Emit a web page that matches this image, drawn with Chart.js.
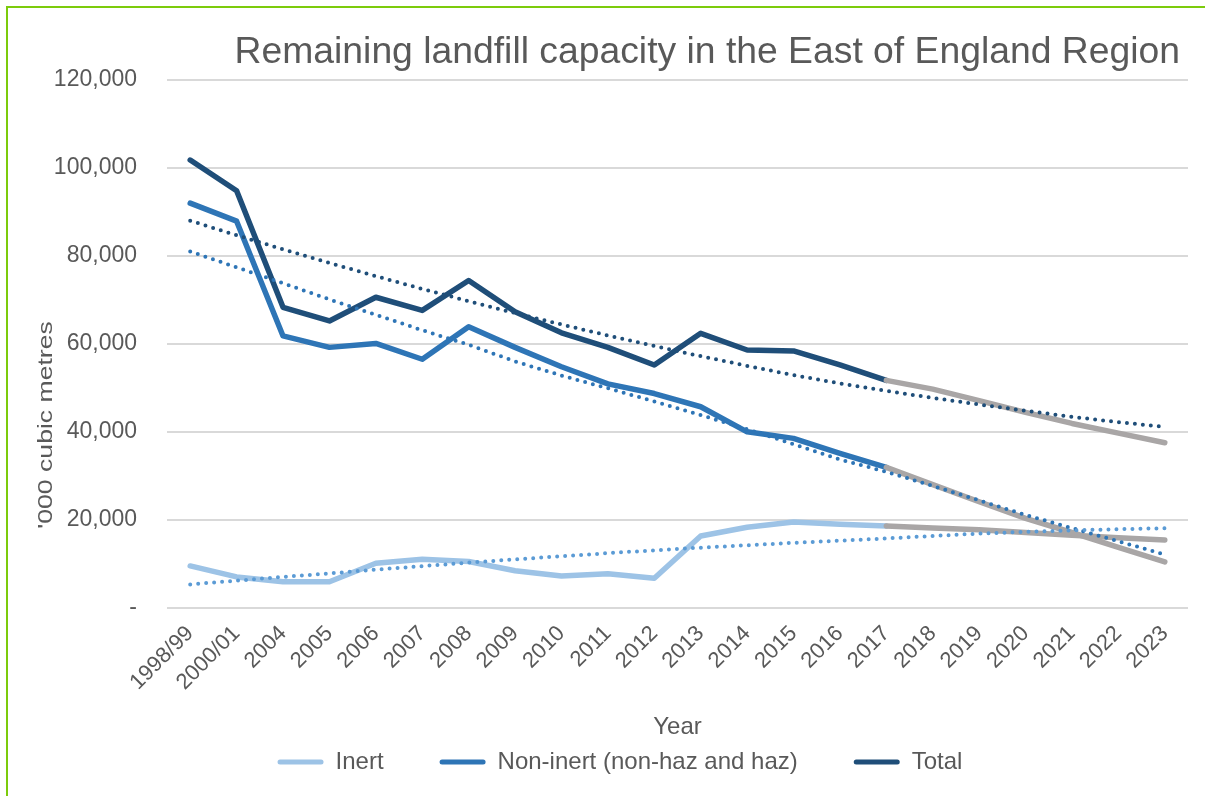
<!DOCTYPE html>
<html>
<head>
<meta charset="utf-8">
<title>Remaining landfill capacity</title>
<script src="https://cdn.jsdelivr.net/npm/chart.js@4/dist/chart.umd.min.js"></script>
<style>
  html, body { margin: 0; padding: 0; background: #ffffff; }
  #wrap { position: relative; width: 1205px; height: 796px; overflow: hidden; }
  #wrap canvas { position: absolute; left: 0; top: 0; }
  #frame {
    position: absolute; left: 6px; top: 6px; right: -10px; bottom: -10px;
    border-left: 2px solid #7CCB0C; border-top: 2px solid #7CCB0C;
    pointer-events: none;
  }
</style>
</head>
<body>
<div id="wrap">
  <canvas id="chart" width="1205" height="796"></canvas>
  <div id="frame"></div>
</div>
<script>
// Survey years
const years = ['1998/99', '2000/01', '2004', '2005', '2006', '2007', '2008', '2009', '2010', '2011',
  '2012', '2013', '2014', '2015', '2016', '2017', '2018', '2019', '2020', '2021', '2022', '2023'];

// Remaining capacity ('000 cubic metres); values from 2017 onward are projections
const inert = [9500, 7000, 5900, 5900, 10100, 11000, 10500, 8400, 7200, 7700,
  6700, 16300, 18300, 19500, 19000, 18600, 18150, 17700, 17100, 16500, 15900, 15400];
const nonInert = [92000, 87900, 61800, 59200, 60100, 56500, 63900, 59200, 54800, 50900,
  48700, 45700, 40000, 38500, 35100, 31900, 28000, 24100, 20300, 17100, 13700, 10400];
const total = [101800, 94800, 68300, 65200, 70600, 67600, 74400, 67300, 62500, 59200,
  55200, 62400, 58600, 58400, 55200, 51700, 49700, 47100, 44400, 41900, 39700, 37500];

// Trend lines
const inertTrend = [5300, 6150, 7000, 7800, 8650, 9450, 10250, 11000, 11700, 12400,
  13050, 13650, 14200, 14750, 15250, 15750, 16300, 16850, 17250, 17600, 17850, 18080];
const nonInertTrend = [81000, 77400, 73800, 70100, 66600, 63100, 59800, 56000, 52800, 49900,
  46900, 43800, 40600, 37200, 33700, 30900, 27700, 24400, 21100, 18100, 15100, 12100];
const totalTrend = [88000, 84700, 81500, 78400, 75400, 72500, 69700, 67000, 64400, 61900,
  59500, 57200, 55000, 52900, 51000, 49300, 47700, 46200, 44800, 43400, 42200, 41100];

const projectionFrom = '2017';
const yTickLabels = ['-', '20,000', '40,000', '60,000', '80,000', '100,000', '120,000'];

const chartTitle = 'Remaining landfill capacity in the East of England Region';
const yAxisTitle = "'000 cubic metres";
const xAxisTitle = 'Year';

const FONT = "'Liberation Sans', Arial, Helvetica, sans-serif";
const TEXT = '#595959';
const GREY = '#A9A6A6';
const projIdx = years.indexOf(projectionFrom);

function seriesLine(label, data, color, order) {
  return {
    label, data, order,
    borderColor: color, backgroundColor: color,
    borderWidth: 5.5, borderCapStyle: 'round', borderJoinStyle: 'round',
    pointRadius: 0, pointHoverRadius: 0, tension: 0, fill: false,
    segment: { borderColor: c => (c.p0DataIndex >= projIdx ? GREY : undefined) }
  };
}

function trendLine(label, data, color) {
  return {
    label, data, isTrend: true, order: 0,
    borderColor: color, backgroundColor: color,
    borderWidth: 4, borderDash: [0, 8], borderCapStyle: 'round',
    pointRadius: 0, pointHoverRadius: 0, tension: 0, fill: false
  };
}

// Chart heading and the vertical axis caption
const captions = {
  id: 'captions',
  afterDraw(chart) {
    const { ctx, chartArea } = chart;
    ctx.save();
    ctx.fillStyle = TEXT;
    ctx.font = `37.3px ${FONT}`;
    ctx.textAlign = 'right';
    ctx.textBaseline = 'alphabetic';
    ctx.fillText(chartTitle, chartArea.right - 8, 63);

    ctx.translate(46.5, 425);
    ctx.rotate(-Math.PI / 2);
    ctx.scale(1.33, 1);
    ctx.font = `20px ${FONT}`;
    ctx.textAlign = 'center';
    ctx.textBaseline = 'middle';
    ctx.fillText(yAxisTitle, 0, 0);
    ctx.restore();
  }
};

new Chart(document.getElementById('chart'), {
  type: 'line',
  data: {
    labels: years,
    datasets: [
      seriesLine('Inert', inert, '#9DC3E6', 3),
      seriesLine('Non-inert (non-haz and haz)', nonInert, '#2E75B6', 2),
      seriesLine('Total', total, '#1F4E79', 1),
      trendLine('Inert trend', inertTrend, '#5B9BD5'),
      trendLine('Non-inert trend', nonInertTrend, '#2E75B6'),
      trendLine('Total trend', totalTrend, '#1F4E79')
    ]
  },
  options: {
    responsive: false,
    animation: false,
    devicePixelRatio: 1,
    layout: { padding: { left: 52, right: 17, top: 80, bottom: 12 } },
    plugins: {
      title: { display: false },
      tooltip: { enabled: false },
      legend: {
        position: 'bottom',
        labels: {
          color: TEXT,
          font: { family: FONT, size: 24 },
          boxWidth: 46,
          boxHeight: 5,
          padding: 56,
          useBorderRadius: true,
          borderRadius: 2.5,
          filter: (item, data) => !data.datasets[item.datasetIndex].isTrend,
          sort: (a, b) => a.datasetIndex - b.datasetIndex,
          generateLabels(chart) {
            const items = Chart.defaults.plugins.legend.labels.generateLabels(chart);
            items.forEach(it => {
              it.lineWidth = 0;
              it.fillStyle = chart.data.datasets[it.datasetIndex].borderColor;
            });
            return items;
          }
        }
      }
    },
    scales: {
      x: {
        type: 'category',
        offset: true,
        grid: { display: false },
        border: { display: false },
        ticks: {
          color: TEXT,
          font: { family: FONT, size: 22 },
          minRotation: 45, maxRotation: 45,
          autoSkip: false,
          padding: 5
        },
        title: {
          display: true, text: xAxisTitle, color: TEXT,
          font: { family: FONT, size: 24 },
          padding: { top: 0, bottom: -48 }
        },
        afterFit(scale) { scale.height = 86.3; }
      },
      y: {
        min: 0, max: 120000,
        grid: { color: '#D9D9D9', lineWidth: 2, drawTicks: false },
        border: { display: false },
        ticks: {
          stepSize: 20000,
          color: TEXT,
          font: { family: FONT, size: 23 },
          padding: 30,
          callback: (v, i) => yTickLabels[i]
        },
        afterFit(scale) { scale.width = 115; }
      }
    }
  },
  plugins: [captions]
});
</script>
</body>
</html>
